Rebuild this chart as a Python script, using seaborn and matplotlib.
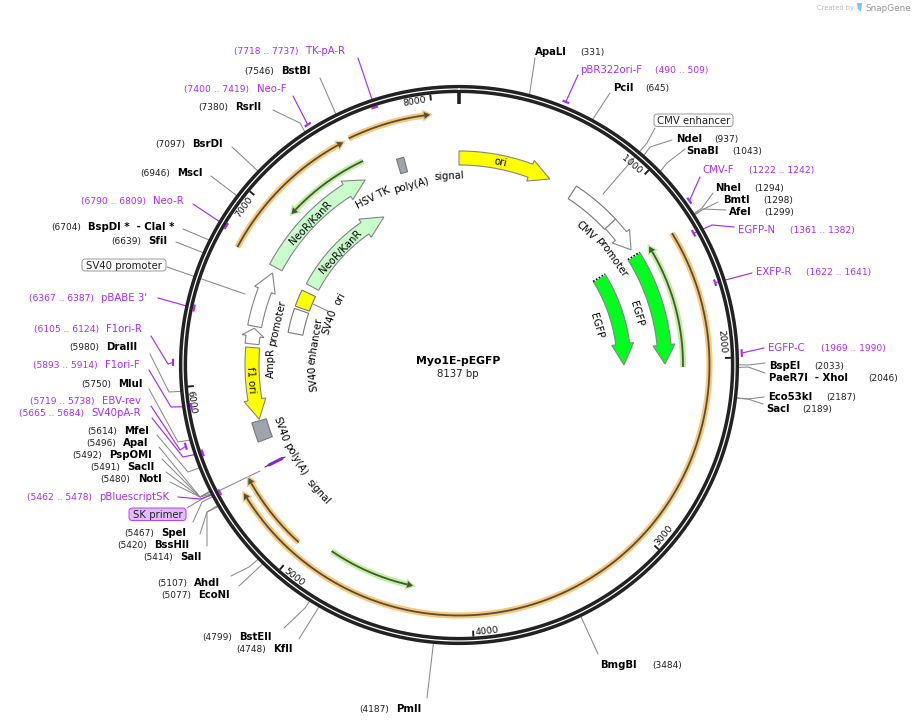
import numpy as np
import seaborn as sns
import matplotlib.pyplot as plt
from matplotlib.patches import FancyBboxPatch

plasmid_name = "Myo1E-pEGFP"
plasmid_bp = 8137
tick_bp = [1000, 2000, 3000, 4000, 5000, 6000, 7000, 8000]

# restriction sites
site_names = ["ApaLI", "PciI", "NdeI", "SnaBI", "NheI", "BmtI", "AfeI", "BspEI", "PaeR7I  - XhoI",
              "Eco53kI", "SacI", "BmgBI", "PmlI", "KflI", "BstEII", "EcoNI", "AhdI", "SalI", "BssHII",
              "SpeI", "NotI", "SacII", "PspOMI", "ApaI", "MfeI", "MluI", "DraIII", "SfiI",
              "BspDI *  - ClaI *", "MscI", "BsrDI", "RsrII", "BstBI"]
site_bp = [331, 645, 937, 1043, 1294, 1298, 1299, 2033, 2046,
           2187, 2189, 3484, 4187, 4748, 4799, 5077, 5107, 5414, 5420,
           5467, 5480, 5491, 5492, 5496, 5614, 5750, 5980, 6639,
           6704, 6946, 7097, 7380, 7546]

# primers
primer_names = ["pBR322ori-F", "CMV-F", "EGFP-N", "EXFP-R", "EGFP-C", "pBluescriptSK", "SV40pA-R", "EBV-rev",
                "F1ori-F", "F1ori-R", "pBABE 3'", "Neo-R", "Neo-F", "TK-pA-R"]
primer_start = [490, 1222, 1361, 1622, 1969, 5462, 5665, 5719, 5893, 6105, 6367, 6790, 7400, 7718]
primer_end = [509, 1242, 1382, 1641, 1990, 5478, 5684, 5738, 5914, 6124, 6387, 6809, 7419, 7737]

# directional features
arrow_names = ["ori", "CMV promoter", "EGFP", "EGFP", "NeoR/KanR", "NeoR/KanR", "SV40 promoter", "AmpR promoter", "f1 ori"]
arrow_start = [0, 1063, 1312, 1313, 6736, 6736, 6345, 6234, 6212]
arrow_end = [588, 1270, 2028, 2034, 7529, 7529, 6697, 6333, 5759]

# plain boxes
box_names = ["CMV enhancer", "SV40 enhancer", "SV40 ori", "SV40 poly(A) signal", "HSV TK poly(A) signal"]
box_start = [752, 6347, 6550, 5628, 7755]
box_end = [1063, 6532, 6679, 5750, 7800]

# open reading frames
orf_start = [1316, 5020, 6736, 7550, 2046, 4846, 7568]
orf_end = [5407, 5465, 7516, 7988, 1312, 4334, 7052]
orf_kind = ["orange", "orange", "orange", "orange", "green", "green", "green"]

# ---- layout, all in pixels of the 914x725 picture ----
CX, CY = 459, 365
PURPLE = "#a82cfb"
LEADER = "#8a8a8a"
DARK = "#222222"

arrow_radius = [207, 207, 206, 165, 207.5, 166, 208, 208, 207]
arrow_head = [21, 17, 19, 21, 21, 22, 19, 8, 20]
arrow_color = ["#ffff00", "white", "#00ff21", "#00ff21", "#c9fccb", "#c9fccb", "white", "white", "#ffff00"]
box_radius = [206.5, 166.5, 166.5, 207.5, 207.5]
box_color = ["white", "white", "#ffff00", "#9fa5af", "#9fa5af"]
orf_radius = [250.5, 239, 251, 252, 224, 225.5, 225.5]
orf_colors = {"orange": "#fdc672", "green": "#b9f598"}

tick_text_xy = [(631.5, 164.5), (722, 341), (664, 535), (487, 631), (294, 577), (191.5, 402), (244, 207), (415, 102)]

# name left edge, coordinate anchor, y, leader points from label towards the ring
site_layout = [
    (535, 580, 51, [(535, 58)]),
    (613, 645, 87, [(610, 93)]),
    (676, 714, 138, [(672, 140), (650, 147)]),
    (686, 732, 150, [(685, 149), (667, 163)]),
    (715, 754, 187, [(713, 193), (702, 208)]),
    (723, 763, 199, [(718, 202), (702, 210)]),
    (729, 764, 211, [(726, 210), (703, 209)]),
    (769, 814, 365, [(765, 363), (748, 365)]),
    (769, 868, 377, [(765, 373), (748, 367)]),
    (768, 826, 396, [(764, 397), (748, 399)]),
    (766, 802, 408, [(763, 404), (748, 399)]),
    (600, 652, 664, [(598, 654)]),
    (396, 389, 708, [(427, 698)]),
    (273, 266, 648, [(299, 639)]),
    (239, 232, 636, [(284, 628), (305, 608)]),
    (198, 191, 594, [(239, 586)]),
    (194, 187, 582, [(231, 576), (249, 567)]),
    (180, 173, 556, [(207, 546), (207, 512)]),
    (154, 147, 544, [(200, 534), (207, 512)]),
    (161, 154, 532, [(193, 522), (202, 502)]),
    (138, 130, 478, [(170, 482), (200, 497)]),
    (127, 120, 466, [(166, 472), (200, 497)]),
    (109, 102, 454, [(162, 459), (200, 497)]),
    (123, 116, 442, [(159, 447), (200, 497)]),
    (124, 117, 430, [(157, 435), (188, 472)]),
    (118, 111, 383, [(149, 389), (178, 442)]),
    (106, 99, 346, [(150, 354), (169, 392)]),
    (148, 141, 240, [(176, 242)]),
    (88, 81, 226, [(183, 229)]),
    (177, 170, 172, [(211, 176)]),
    (192, 185, 143, [(232, 147)]),
    (235, 228, 106, [(273, 110), (300, 123)]),
    (281, 274, 70, [(320, 78)]),
]
primer_layout = [
    (580, 655, 69, [(578, 75)]),
    (702, 749, 169, [(700, 177), (692, 195)]),
    (738, 790, 229, [(734, 227), (712, 225)]),
    (756, 806, 271, [(752, 273)]),
    (768, 821, 347, [(764, 348)]),
    (99, 92, 496, [(178, 497), (200, 499)]),
    (91, 84, 412, [(152, 418), (183, 457)]),
    (102, 95, 400, [(151, 406), (180, 450)]),
    (105, 98, 364, [(149, 370), (171, 407)]),
    (106, 99, 328, [(151, 336), (168, 364)]),
    (101, 94, 297, [(158, 298)]),
    (153, 146, 200, [(193, 204)]),
    (257, 249, 88, [(293, 96)]),
    (306, 299, 50, [(358, 58)]),
]
# primers sitting outside the ring have the larger radius
primer_radius = [284, 283, 269, 269, 283, 271, 271, 285, 271, 286, 271, 271, 284, 271]

# word, centre x, centre y, read against the ring direction
curved_words = [("ori", 500.5, 162.5, False), ("CMV", 586, 230.5, False), ("promoter", 611.5, 257.5, False),
                ("EGFP", 636.5, 314, False), ("EGFP", 596.5, 326, False),
                ("NeoR/KanR", 311, 223, False), ("NeoR/KanR", 340.5, 252, False), ("HSV TK", 373, 198, False),
                ("poly(A)", 411, 185, False), ("signal", 449, 176, False), ("AmpR", 271.5, 362.5, False),
                ("promoter", 277, 323, False), ("SV40", 313, 378.5, True), ("enhancer", 315, 341, False),
                ("SV40", 329.5, 322, False), ("ori", 340, 299, False), ("f1 ori", 251, 380, False),
                ("SV40", 280.5, 429, False), ("poly(A)", 295, 459, False), ("signal", 318, 492, False)]

# text, left, top, width, height, fill, edge
boxed_labels = [("SV40 promoter", 82, 259, 84, 12, "white", "#888888"),
                ("CMV enhancer", 654, 114, 79, 12.5, "white", "#888888"),
                ("SK primer", 129, 508, 57, 12.5, "#e2bcff", PURPLE)]


def bp_xy(bp, r):
    t = 2 * np.pi * np.asarray(bp, dtype=float) / plasmid_bp
    return CX + r * np.sin(t), CY - r * np.cos(t)


def arc(bp0, bp1, r, n=80):
    return bp_xy(np.linspace(bp0, bp1, n), r)


def px_to_bp(px, r):
    return px / r * plasmid_bp / (2 * np.pi)


def draw_arrow(start, end, r, head_px, color, body=7, head=11):
    sign = 1 if end > start else -1
    neck = end - sign * px_to_bp(head_px, r)
    x1, y1 = arc(start, neck, r + body)
    x2, y2 = arc(neck, start, r - body)
    hx0, hy0 = bp_xy(neck, r + head)
    hx1, hy1 = bp_xy(end, r)
    hx2, hy2 = bp_xy(neck, r - head)
    xs = np.r_[x1, hx0, hx1, hx2, x2]
    ys = np.r_[y1, hy0, hy1, hy2, y2]
    ax.fill(xs, ys, facecolor=color, edgecolor="#858585", linewidth=0.8, zorder=3)


def draw_box(start, end, r, color, half=7.5):
    x1, y1 = arc(start, end, r + half, 20)
    x2, y2 = arc(end, start, r - half, 20)
    ax.fill(np.r_[x1, x2], np.r_[y1, y2], facecolor=color, edgecolor="#777777", linewidth=0.8, zorder=3)


def draw_orf(start, end, r, kind):
    sign = 1 if end > start else -1
    neck = end - sign * px_to_bp(6, r)
    x, y = arc(start, neck, r, 200)
    halo = orf_colors[kind]
    sns.lineplot(x=x, y=y, sort=False, estimator=None, color=halo, linewidth=4.4, ax=ax, legend=False,
                 solid_capstyle="butt", zorder=2)
    hx = [bp_xy(neck, r + 3.5)[0], bp_xy(end, r)[0], bp_xy(neck, r - 3.5)[0]]
    hy = [bp_xy(neck, r + 3.5)[1], bp_xy(end, r)[1], bp_xy(neck, r - 3.5)[1]]
    ax.fill(hx, hy, facecolor="#4f4f42", edgecolor=halo, linewidth=2.0, zorder=2, joinstyle="miter")
    ax.fill(hx, hy, facecolor="#4f4f42", edgecolor="none", zorder=3)
    sns.lineplot(x=x, y=y, sort=False, estimator=None, color="#4f4f42", linewidth=1.3, ax=ax, legend=False,
                 solid_capstyle="butt", zorder=3)


sns.set_theme(style="white")
plt.rcParams["font.family"] = ["DejaVu Sans"]

fig = plt.figure(figsize=(9.14, 7.25), dpi=100)
ax = fig.add_axes([0, 0, 1, 1])

# backbone
ring_x, ring_y = arc(0, plasmid_bp, 276, 720)
sns.lineplot(x=ring_x, y=ring_y, sort=False, estimator=None, color=DARK, linewidth=5.9, ax=ax, legend=False, zorder=4)
sns.lineplot(x=ring_x, y=ring_y, sort=False, estimator=None, color="white", linewidth=0.9, ax=ax, legend=False, zorder=4)

# ticks
for bp, (tx, ty) in zip(tick_bp, tick_text_xy):
    x0, y0 = bp_xy(bp, 272)
    x1, y1 = bp_xy(bp, 266)
    ax.plot([x0, x1], [y0, y1], color=DARK, lw=1.4, solid_capstyle="butt", zorder=4)
    theta = np.degrees(np.arctan2(tx - CX, CY - ty)) % 360
    rot = 180 - theta if 90 < theta < 270 else -theta
    ax.text(tx, ty, str(bp), fontsize=6.7, rotation=rot, rotation_mode="anchor", ha="center", va="center", color="#111111")
x0, y0 = bp_xy(0, 273)
x1, y1 = bp_xy(0, 261)
ax.plot([x0, x1], [y0, y1], color=DARK, lw=2.6, solid_capstyle="butt", zorder=4)

# orfs under the features
for s, e, r, k in zip(orf_start, orf_end, orf_radius, orf_kind):
    draw_orf(s, e, r, k)

for s, e, r, c in zip(box_start, box_end, box_radius, box_color):
    draw_box(s, e, r, c)
for s, e, r, h, c in zip(arrow_start, arrow_end, arrow_radius, arrow_head, arrow_color):
    draw_arrow(s, e, r, h, c)

# dotted stubs where EGFP is cut off
for s, r in zip(arrow_start[2:4], arrow_radius[2:4]):
    x0, y0 = bp_xy(s, r - 7)
    x1, y1 = bp_xy(s, r + 7)
    ax.plot([x0, x1], [y0, y1], color="white", lw=1.2, zorder=4)
    ax.plot([x0, x1], [y0, y1], color="black", lw=1.2, ls=(0, (1, 1)), zorder=4)

# restriction site labels
for name, bp, (nx, cx, ty, pts) in zip(site_names, site_bp, site_layout):
    ex, ey = bp_xy(bp, 278)
    xs = [p[0] for p in pts] + [ex]
    ys = [p[1] for p in pts] + [ey]
    ax.plot(xs, ys, color=LEADER, lw=0.75, zorder=1)
    ax.text(nx, ty + 1, name, fontsize=7.3, fontweight="bold", ha="left", va="center", color="black")
    ax.text(cx, ty + 1.5, f"({bp})", fontsize=6.5, ha="right" if cx < nx else "left", va="center", color="#222222")

# primers, the ring hides the middle of each leader
for name, s, e, r, (nx, cx, ty, pts) in zip(primer_names, primer_start, primer_end, primer_radius, primer_layout):
    ex, ey = bp_xy((s + e) / 2, r)
    xs = [p[0] for p in pts] + [ex]
    ys = [p[1] for p in pts] + [ey]
    ax.plot(xs, ys, color=PURPLE, lw=0.85, zorder=3.5)
    bx, by = arc(s - 7, e + 7, r, 6)
    ax.plot(bx, by, color=PURPLE, lw=1.6, solid_capstyle="butt", zorder=5)
    ax.text(nx, ty + 1, name, fontsize=7.3, ha="left", va="center", color=PURPLE)
    ax.text(cx, ty + 1.5, f"({s} .. {e})", fontsize=6.6, ha="right" if cx < nx else "left", va="center", color=PURPLE)

# feature names on the map
for word, tx, ty, against in curved_words:
    theta = np.degrees(np.arctan2(tx - CX, CY - ty)) % 360
    rot = 180 - theta if 90 < theta < 270 else -theta
    if against:
        rot += 180
    ax.text(tx, ty, word, fontsize=7.3, rotation=rot, rotation_mode="anchor", ha="center", va="center",
            color="black", zorder=6)

# leaders of the boxed labels
ax.plot([167, 245], [267, 294], color=LEADER, lw=0.75, zorder=1)
ax.plot([655, 647, 603], [128, 143, 194], color=LEADER, lw=0.75, zorder=1)
ax.plot([187, 202, 260], [508, 499, 471], color=LEADER, lw=0.75, zorder=1)
ax.plot([313, 328], [304, 311], color=LEADER, lw=0.75, zorder=1)

for text, left, top, w, h, fc, ec in boxed_labels:
    ax.add_patch(FancyBboxPatch((left, top), w, h, boxstyle="round,pad=0,rounding_size=3",
                                fc=fc, ec=ec, lw=0.6, zorder=5))
    ax.text(left + w / 2, top + h / 2 + 0.5, text, fontsize=7.3, ha="center", va="center", color="#222222", zorder=6)

# SK primer sliver
ax.plot([265, 285], [467, 457], color="#3a2a55", lw=0.8, zorder=5)
ax.plot([269, 282], [465, 458.5], color="#8a22d0", lw=2.2, solid_capstyle="round", zorder=5)

# centre title
ax.text(458, 361, plasmid_name, fontsize=7.8, fontweight="bold", ha="center", va="center", color="black")
ax.text(458, 374, f"{plasmid_bp} bp", fontsize=7.3, ha="center", va="center", color="#222222")

# watermark
ax.text(817, 8, "Created by", fontsize=4.9, ha="left", va="center", color="#bbbbbb")
ax.text(865, 8, "SnapGene", fontsize=6.4, ha="left", va="center", color="#999999")
ax.fill([857, 862, 861, 858], [3, 3, 12, 9], color="#7fc4ea", lw=0)

ax.set_xlim(0, 914)
ax.set_ylim(725, 0)
ax.set_axis_off()
fig.savefig("out.png", dpi=100, facecolor="white")
